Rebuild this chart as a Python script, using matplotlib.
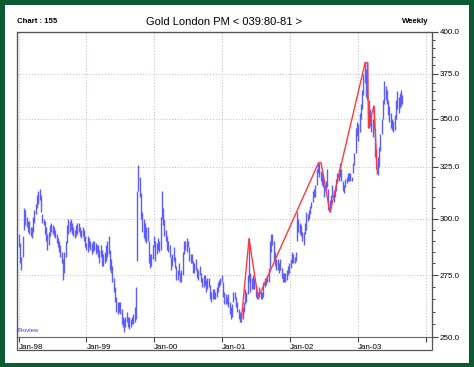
import pandas as pd
import matplotlib
matplotlib.use('Agg')
import matplotlib.pyplot as plt
from matplotlib.patches import Rectangle
from matplotlib.ticker import FixedLocator, NullFormatter, FormatStrFormatter

plt.rcParams['font.family'] = ['Liberation Sans', 'DejaVu Sans']

# weekly London PM fix, low / high of each week
lo_1998 = [287, 280, 277, 283, 295, 297, 296, 294, 293, 292, 291, 294, 298, 302, 305, 307, 309, 303, 298, 297,
           293, 290, 286, 288, 292, 294, 293, 292, 291, 289, 287, 285, 283, 280, 273, 276, 283, 289, 293, 294,
           295, 293, 292, 291, 292, 293, 294, 292, 291, 292, 290, 287]
hi_1998 = [293, 289, 283, 292, 305, 304, 301, 299, 299, 296, 296, 301, 304, 307, 311, 313, 314, 311, 302, 300,
           299, 296, 293, 294, 297, 298, 297, 296, 295, 293, 291, 290, 288, 285, 282, 285, 290, 297, 300, 299,
           300, 298, 296, 295, 297, 298, 298, 296, 295, 296, 295, 292]
lo_1999 = [286, 285, 287, 286, 284, 285, 286, 284, 285, 283, 280, 283, 279, 279, 280, 281, 283, 284, 277, 276,
           272, 268, 264, 260, 259, 260, 259, 255, 254, 252, 254, 256, 254, 253, 254, 255, 255, 256, 257, 281,
           313, 310, 300, 294, 291, 290, 289, 290, 280, 278, 279, 282, 287]
hi_1999 = [289, 292, 291, 290, 289, 290, 290, 289, 288, 288, 286, 288, 286, 284, 285, 288, 290, 292, 286, 282,
           279, 274, 270, 266, 264, 264, 264, 261, 258, 257, 258, 260, 258, 258, 257, 258, 259, 262, 270, 313,
           326, 320, 312, 303, 300, 298, 296, 296, 290, 284, 284, 288, 292]
lo_2000 = [281, 284, 286, 285, 286, 300, 297, 292, 290, 286, 285, 283, 277, 279, 281, 278, 273, 273, 275, 272,
           272, 275, 284, 286, 285, 287, 281, 280, 280, 276, 276, 277, 274, 273, 275, 272, 270, 270, 271, 268,
           269, 270, 265, 264, 265, 265, 265, 266, 268, 270, 271, 272]
hi_2000 = [290, 289, 291, 290, 301, 313, 305, 300, 295, 292, 290, 288, 283, 284, 287, 283, 279, 277, 280, 276,
           277, 285, 290, 290, 291, 290, 287, 284, 284, 281, 280, 282, 278, 277, 279, 276, 274, 275, 275, 273,
           274, 274, 271, 268, 269, 269, 268, 270, 272, 273, 274, 275]
lo_2001 = [266, 263, 263, 263, 262, 259, 257, 258, 264, 265, 262, 260, 257, 256, 256, 257, 260, 263, 264, 267,
           272, 268, 269, 269, 269, 266, 265, 265, 266, 265, 265, 266, 270, 271, 272, 272, 278, 285, 288, 281,
           279, 277, 277, 276, 277, 274, 272, 272, 272, 273, 275, 276]
hi_2001 = [272, 268, 267, 266, 267, 264, 262, 263, 268, 268, 266, 264, 261, 260, 259, 262, 264, 269, 268, 275,
           291, 276, 274, 275, 274, 271, 268, 268, 270, 268, 268, 272, 274, 274, 275, 278, 290, 293, 293, 290,
           285, 282, 282, 280, 282, 278, 276, 276, 276, 277, 279, 280]
lo_2002 = [278, 280, 280, 280, 281, 290, 294, 293, 292, 290, 288, 293, 295, 299, 300, 302, 305, 308, 310, 310,
           316, 322, 320, 318, 316, 315, 310, 313, 315, 304, 303, 305, 310, 308, 310, 313, 317, 318, 320, 318,
           313, 312, 315, 317, 318, 318, 318, 318, 322, 326, 332, 341]
hi_2002 = [282, 285, 284, 283, 285, 303, 300, 298, 297, 294, 294, 298, 303, 302, 304, 306, 308, 313, 314, 316,
           324, 327, 327, 323, 322, 320, 316, 318, 324, 314, 309, 311, 316, 313, 314, 319, 322, 324, 327, 324,
           318, 316, 319, 320, 322, 322, 322, 320, 327, 332, 345, 348]
lo_2003 = [338, 343, 350, 355, 363, 370, 362, 360, 345, 346, 343, 340, 345, 330, 324, 321, 325, 333, 342, 350,
           358, 360, 358, 352, 348, 345, 344, 343, 344, 350, 355, 353, 356, 357, 358]
hi_2003 = [347, 353, 358, 366, 375, 382, 378, 382, 360, 355, 352, 350, 357, 345, 334, 330, 335, 342, 350, 360,
           371, 368, 366, 360, 357, 353, 350, 349, 352, 360, 365, 362, 364, 366, 363]

lows = lo_1998 + lo_1999 + lo_2000 + lo_2001 + lo_2002 + lo_2003
highs = hi_1998 + hi_1999 + hi_2000 + hi_2001 + hi_2002 + hi_2003
weeks = pd.date_range('1998-01-02', periods=len(lows), freq='W-FRI')

# red swing line
swing_dates = pd.to_datetime(['2001-04-13', '2001-05-25', '2001-07-13', '2002-06-03', '2002-06-17',
                              '2002-08-04', '2003-02-09', '2003-02-23', '2003-02-27', '2003-03-28',
                              '2003-04-16'])
swing_vals = [256, 291, 265.5, 327, 327, 303, 381.5, 381.5, 345, 357, 321.5]

y_major = [250, 275, 300, 325, 350, 375, 400]
y_minor = [v for v in range(250, 401, 5) if v not in y_major]
year_ticks = pd.to_datetime(['1998-01-01', '1999-01-01', '2000-01-01', '2001-01-01',
                             '2002-01-01', '2003-01-01', '2004-01-01'])
year_labels = ['Jan-98', 'Jan-99', 'Jan-00', 'Jan-01', 'Jan-02', 'Jan-03', '']

W, H = 474, 367
fig = plt.figure(figsize=(W / 100, H / 100), dpi=100)
fig.patch.set_facecolor('#0b5a34')
fig.add_artist(Rectangle((5 / W, 4 / H), 464 / W, 358 / H, transform=fig.transFigure,
                         facecolor='white', edgecolor='none', zorder=0))

ax = fig.add_axes([17 / W, (H - 337) / H, 415 / W, 305 / H])
ax.set_facecolor('white')

ax.vlines(weeks, lows, highs, color='#5c5cff', lw=1.0, zorder=3)
ax.plot(swing_dates, swing_vals, color='#ff3a3a', lw=1.0, zorder=4)

ax.set_yscale('log')
ax.set_ylim(250, 400)
ax.set_xlim(pd.Timestamp('1997-12-23'), pd.Timestamp('2004-02-04'))

ax.yaxis.tick_right()
ax.yaxis.set_major_locator(FixedLocator(y_major))
ax.yaxis.set_major_formatter(FormatStrFormatter('%.1f'))
ax.yaxis.set_minor_locator(FixedLocator(y_minor))
ax.yaxis.set_minor_formatter(NullFormatter())
ax.tick_params(axis='y', which='major', length=4, width=0.8, color='#444444',
               labelsize=5.8, pad=1.5, direction='out')
ax.tick_params(axis='y', which='minor', length=2.5, width=0.7, color='#444444', direction='out')

ax.set_xticks(year_ticks)
ax.set_xticklabels(year_labels)
ax.tick_params(axis='x', which='major', length=3.5, width=0.8, color='#444444',
               labelsize=5.8, pad=1.5, direction='out')
for lab in ax.get_xticklabels():
    lab.set_horizontalalignment('left')
ax.xaxis.set_minor_locator(FixedLocator([]))

ax.grid(True, which='major', color='#c4b4cc', lw=0.7, linestyle=(0, (1, 2)))
for s in ax.spines.values():
    s.set_color('#666666')
    s.set_linewidth(0.8)

ax.text(0.002, 0.012, 'Proview', transform=ax.transAxes, color='#3030ff', fontsize=4.3,
        ha='left', va='bottom')

# outer chart frame
fig.add_artist(Rectangle((17 / W, (H - 350) / H), 415 / W, 318 / H, transform=fig.transFigure,
                         facecolor='none', edgecolor='#555555', lw=0.9, zorder=5))

fig.text(17 / W, 1 - 21.5 / H, 'Chart : 155', fontsize=5.6, weight='bold', ha='left', va='center')
fig.text(224.5 / W, 1 - 22 / H, 'Gold London PM < 039:80-81 >', fontsize=8, ha='center', va='center')
fig.text(428 / W, 1 - 21.5 / H, 'Weekly', fontsize=5.6, weight='bold', ha='right', va='center')

fig.savefig('out.png', dpi=100)
